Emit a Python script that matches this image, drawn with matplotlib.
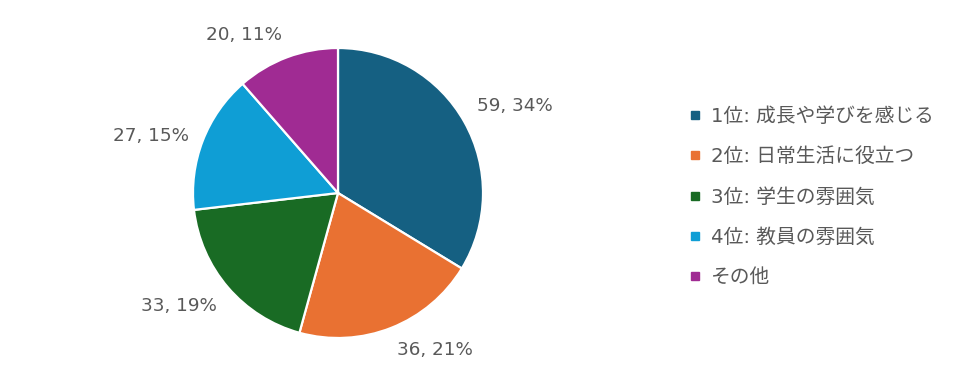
import matplotlib
matplotlib.use("Agg")
import matplotlib.pyplot as plt
from matplotlib.lines import Line2D
import numpy as np

plt.rcParams['font.family'] = ['DejaVu Sans', 'Noto Sans CJK JP']

categories = ["1位: 成長や学びを感じる", "2位: 日常生活に役立つ", "3位: 学生の雰囲気", "4位: 教員の雰囲気", "その他"]
values = [59, 36, 33, 27, 20]
colors = ["#156082", "#E97132", "#196B24", "#0F9ED5", "#A02B93"]

W, H = 954, 386
fig = plt.figure(figsize=(W / 100, H / 100), dpi=100)
cx, cy, r = 338, 193, 145
ax = fig.add_axes([(cx - r) / W, (H - cy - r) / H, 2 * r / W, 2 * r / H])

wedges, _ = ax.pie(values, colors=colors, startangle=90, counterclock=False,
                   radius=1, wedgeprops=dict(edgecolor='white', linewidth=1.6))
for w in wedges:
    w.set_clip_on(False)
ax.set_xlim(-1, 1)
ax.set_ylim(-1, 1)
ax.axis('off')

total = sum(values)
cum = 0
for v in values:
    mid = (cum + v / 2) / total * 2 * np.pi
    cum += v
    dx, dy = np.sin(mid), np.cos(mid)
    x, y = 1.1 * dx, 1.1 * dy
    ha = 'left' if dx > 0 else 'right'
    va = 'bottom' if dy > 0.4 else ('top' if dy < -0.4 else 'center')
    pct = round(v / total * 100)
    ax.text(x, y, f"{v}, {pct}%", ha=ha, va=va, fontsize=13.2, color='#595959', clip_on=False)

handles = [Line2D([0], [0], marker='s', linestyle='none', markersize=6,
                  markerfacecolor=c, markeredgecolor=c) for c in colors]
leg = fig.legend(handles, categories, loc='upper left',
                 bbox_to_anchor=(679 / W, 1 - 97 / H), frameon=False,
                 fontsize=14.2, labelspacing=1.08, handlelength=0.6, handletextpad=0.5,
                 borderpad=0, labelcolor='#595959')

fig.savefig("out.png", dpi=100, facecolor='white')
